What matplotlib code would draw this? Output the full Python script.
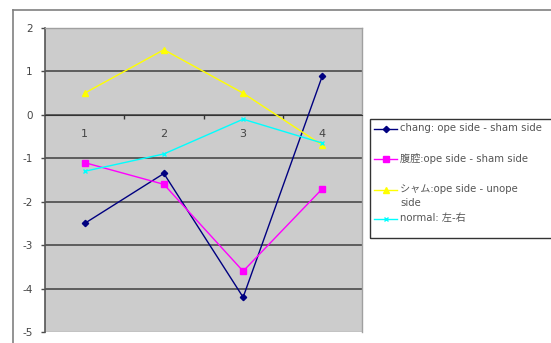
import numpy as np
import matplotlib

matplotlib.use("Agg")
import matplotlib.pyplot as plt
from matplotlib.lines import Line2D
from matplotlib.patches import Rectangle

plt.rcParams["font.family"] = ["DejaVu Sans", "Noto Sans CJK JP"]
plt.rcParams["axes.unicode_minus"] = False

# ---- data ----
categories = ["1", "2", "3", "4"]
chang = [-2.5, -1.35, -4.2, 0.9]
fukukou = [-1.1, -1.6, -3.6, -1.7]
sham = [0.5, 1.5, 0.5, -0.7]
normal = [-1.3, -0.9, -0.1, -0.65]
series_labels = [
    "chang: ope side - sham side",
    "腹腔:ope side - sham side",
    "シャム:ope side - unope\nside",
    "normal: 左-右",
]
y_ticks = [2, 1, 0, -1, -2, -3, -4, -5]

W, H = 551, 343
fig = plt.figure(figsize=(W / 100, H / 100), dpi=100)
fig.patch.set_facecolor("white")


def px(x, y):
    """pixel (from top-left) -> figure fraction"""
    return x / W, 1 - y / H


# outer chart frame (clipped on the right and bottom)
fig.add_artist(Line2D([13 / W, 1.01], [1 - 10 / H] * 2, color="#808080", lw=1.2))
fig.add_artist(Line2D([13 / W] * 2, [-0.01, 1 - 10 / H], color="#808080", lw=1.2))

# plot area
l, r, t, b = 45, 362, 28, 332
ax = fig.add_axes([l / W, 1 - b / H, (r - l) / W, (b - t) / H])
ax.set_facecolor("#CCCCCC")
ax.set_xlim(0.5, 4.5)
ax.set_ylim(-5, 2)

xs = np.arange(1, len(categories) + 1)
styles = [
    (chang, "#000080", "D", 3.2),
    (fukukou, "#FF00FF", "s", 4.2),
    (sham, "#FFFF00", "^", 4.8),
    (normal, "#00FFFF", "x", 3.5),
]
for vals, c, m, ms in styles:
    ax.plot(xs, vals, color=c, lw=1.0, marker=m, ms=ms, mfc=c, mec=c, mew=1.0,
            zorder=3)

# horizontal gridlines
for yv in y_ticks[:-1]:
    ax.axhline(yv, color="#4a4a4a", lw=1.2, zorder=1)

ax.set_yticks(y_ticks)
ax.set_yticklabels([str(v) for v in y_ticks])
ax.tick_params(axis="y", length=3, width=1, color="#4a4a4a", pad=6,
               labelsize=7.5, labelcolor="#444444")

# category axis crosses at 0, labels just under it
ax.spines["bottom"].set_position(("data", 0))
ax.spines["bottom"].set_color("#333333")
ax.set_xticks(xs)
ax.set_xticklabels(categories)
ax.set_xticks([1.5, 2.5, 3.5], minor=True)
ax.tick_params(axis="x", which="major", length=0, pad=10, labelsize=8,
               labelcolor="#444444")
ax.tick_params(axis="x", which="minor", length=3, width=1, color="#333333",
               direction="out")

for s in ("top", "right"):
    ax.spines[s].set_color("#A0A0A0")
    ax.spines[s].set_linewidth(1.0)
ax.spines["left"].set_color("#555555")
ax.spines["left"].set_linewidth(1.2)
# lower edge of the plot area
ax.axhline(-5, color="#A0A0A0", lw=1.0, zorder=1)

# legend box drawn by hand (Excel-like uneven spacing); right edge runs off the canvas
lx0, ly0, lx1, ly1 = 370, 119, 556, 238
fig.add_artist(Rectangle(px(lx0, ly1), (lx1 - lx0) / W, (ly1 - ly0) / H,
                         transform=fig.transFigure, fill=False,
                         edgecolor="#333333", lw=1.0))
entry_y = [129, 159, 190, 219]
for (vals, c, m, ms), lab, yy in zip(styles, series_labels, entry_y):
    fig.add_artist(Line2D([374 / W, 397 / W], [1 - yy / H] * 2, color=c, lw=1.0))
    fig.add_artist(Line2D([385.5 / W], [1 - yy / H], color=c, marker=m, ms=ms,
                          mfc=c, mec=c, mew=1.0, lw=0))
    fig.text(400 / W, 1 - (yy - 5.5) / H, lab, fontsize=7.3, color="#555555",
             va="top", ha="left", linespacing=1.4)

fig.savefig("out.png", dpi=100)
